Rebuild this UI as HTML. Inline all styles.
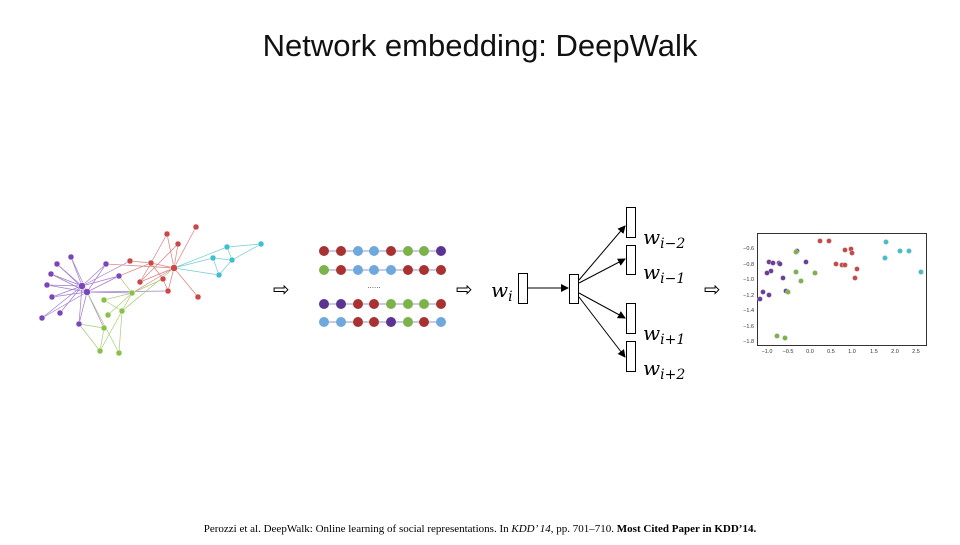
<!DOCTYPE html>
<html><head><meta charset="utf-8"><style>
body{margin:0;width:960px;height:540px;background:#fff;overflow:hidden;font-family:"Liberation Sans",sans-serif}
</style></head><body>
<svg width="960" height="540" xmlns="http://www.w3.org/2000/svg">
<text x="480" y="56" text-anchor="middle" font-family="Liberation Sans" font-size="31" fill="#111">Network embedding: DeepWalk</text>
<g stroke-width="0.7" opacity="0.8">
<g stroke="#8a5cc0">
<line x1="82" y1="286" x2="71" y2="257"/><line x1="82" y1="286" x2="57" y2="264"/><line x1="82" y1="286" x2="51" y2="274"/><line x1="82" y1="286" x2="47" y2="285"/><line x1="82" y1="286" x2="52" y2="297"/><line x1="82" y1="286" x2="42" y2="318"/><line x1="82" y1="286" x2="60" y2="313"/><line x1="82" y1="286" x2="106" y2="264"/><line x1="82" y1="286" x2="119" y2="276"/><line x1="82" y1="286" x2="130" y2="261"/><line x1="82" y1="286" x2="79" y2="324"/>
<line x1="87" y1="292" x2="71" y2="257"/><line x1="87" y1="292" x2="57" y2="264"/><line x1="87" y1="292" x2="51" y2="274"/><line x1="87" y1="292" x2="47" y2="285"/><line x1="87" y1="292" x2="52" y2="297"/><line x1="87" y1="292" x2="42" y2="318"/><line x1="87" y1="292" x2="106" y2="264"/><line x1="87" y1="292" x2="119" y2="276"/><line x1="87" y1="292" x2="79" y2="324"/><line x1="87" y1="292" x2="104" y2="328"/><line x1="87" y1="292" x2="168" y2="291"/><line x1="87" y1="292" x2="132" y2="293"/>
</g>
<g stroke="#d06060">
<line x1="130" y1="261" x2="151" y2="263"/><line x1="151" y1="263" x2="174" y2="268"/><line x1="174" y1="268" x2="167" y2="234"/><line x1="174" y1="268" x2="196" y2="227"/><line x1="174" y1="268" x2="178" y2="244"/><line x1="174" y1="268" x2="198" y2="297"/><line x1="174" y1="268" x2="168" y2="291"/><line x1="174" y1="268" x2="140" y2="282"/><line x1="151" y1="263" x2="167" y2="234"/><line x1="151" y1="263" x2="163" y2="279"/><line x1="151" y1="263" x2="140" y2="282"/><line x1="163" y1="279" x2="168" y2="291"/><line x1="140" y1="282" x2="178" y2="244"/><line x1="106" y1="264" x2="174" y2="268"/><line x1="119" y1="276" x2="151" y2="263"/><line x1="174" y1="268" x2="132" y2="293"/>
</g>
<g stroke="#50c0c8">
<line x1="227" y1="247" x2="261" y2="244"/><line x1="227" y1="247" x2="232" y2="260"/><line x1="213" y1="258" x2="232" y2="260"/><line x1="232" y1="260" x2="219" y2="275"/><line x1="213" y1="258" x2="219" y2="275"/><line x1="232" y1="260" x2="261" y2="244"/><line x1="174" y1="268" x2="227" y2="247"/><line x1="174" y1="268" x2="213" y2="258"/><line x1="174" y1="268" x2="219" y2="275"/>
</g>
<g stroke="#90c050">
<line x1="132" y1="293" x2="104" y2="300"/><line x1="132" y1="293" x2="122" y2="311"/><line x1="132" y1="293" x2="108" y2="315"/><line x1="122" y1="311" x2="104" y2="300"/><line x1="122" y1="311" x2="100" y2="351"/><line x1="122" y1="311" x2="119" y2="353"/><line x1="104" y1="328" x2="100" y2="351"/><line x1="79" y1="324" x2="100" y2="351"/><line x1="79" y1="324" x2="104" y2="328"/><line x1="122" y1="311" x2="174" y2="268"/><line x1="132" y1="293" x2="163" y2="279"/><line x1="87" y1="292" x2="119" y2="353"/><line x1="132" y1="293" x2="119" y2="276"/>
</g>
</g>
<g stroke="#fff" stroke-width="0.5">
<g fill="#7a45b8"><circle cx="82" cy="286" r="3.5"/><circle cx="87" cy="292" r="3.5"/><circle cx="71" cy="257" r="3"/><circle cx="57" cy="264" r="3"/><circle cx="51" cy="274" r="3"/><circle cx="47" cy="285" r="3"/><circle cx="52" cy="297" r="3"/><circle cx="42" cy="318" r="3"/><circle cx="60" cy="313" r="3"/><circle cx="79" cy="324" r="3"/><circle cx="106" cy="264" r="3"/><circle cx="119" cy="276" r="3"/></g>
<g fill="#c84848"><circle cx="130" cy="261" r="3"/><circle cx="151" cy="263" r="3"/><circle cx="174" cy="268" r="3.5"/><circle cx="167" cy="234" r="3"/><circle cx="196" cy="227" r="3"/><circle cx="178" cy="244" r="3"/><circle cx="140" cy="282" r="3"/><circle cx="163" cy="279" r="3"/><circle cx="168" cy="291" r="3"/><circle cx="198" cy="297" r="3"/></g>
<g fill="#40c0cc"><circle cx="227" cy="247" r="3"/><circle cx="261" cy="244" r="3"/><circle cx="213" cy="258" r="3"/><circle cx="232" cy="260" r="3"/><circle cx="219" cy="275" r="3"/></g>
<g fill="#88c048"><circle cx="132" cy="293" r="3"/><circle cx="104" cy="300" r="3"/><circle cx="108" cy="315" r="3"/><circle cx="122" cy="311" r="3"/><circle cx="104" cy="328" r="3"/><circle cx="100" cy="351" r="3"/><circle cx="119" cy="353" r="3"/></g>
</g>
<g font-family="DejaVu Sans" font-size="20" fill="#000">
<text x="273" y="296">⇨</text><text x="456" y="296">⇨</text><text x="704" y="296">⇨</text>
</g>
<g stroke="#b8b8d8" stroke-width="1.5"><line x1="324" y1="251" x2="441" y2="251"/><line x1="324" y1="270" x2="441" y2="270"/><line x1="324" y1="304" x2="441" y2="304"/><line x1="324" y1="322" x2="441" y2="322"/></g>
<g>
<circle cx="324" cy="251" r="5" fill="#a83232"/><circle cx="341" cy="251" r="5" fill="#a83232"/><circle cx="358" cy="251" r="5" fill="#6fa8dc"/><circle cx="374" cy="251" r="5" fill="#6fa8dc"/><circle cx="391" cy="251" r="5" fill="#a83232"/><circle cx="408" cy="251" r="5" fill="#7cb24a"/><circle cx="424" cy="251" r="5" fill="#7cb24a"/><circle cx="441" cy="251" r="5" fill="#5b3492"/>
<circle cx="324" cy="270" r="5" fill="#7cb24a"/><circle cx="341" cy="270" r="5" fill="#a83232"/><circle cx="358" cy="270" r="5" fill="#6fa8dc"/><circle cx="374" cy="270" r="5" fill="#6fa8dc"/><circle cx="391" cy="270" r="5" fill="#6fa8dc"/><circle cx="408" cy="270" r="5" fill="#a83232"/><circle cx="424" cy="270" r="5" fill="#a83232"/><circle cx="441" cy="270" r="5" fill="#a83232"/>
<circle cx="324" cy="304" r="5" fill="#5b3492"/><circle cx="341" cy="304" r="5" fill="#5b3492"/><circle cx="358" cy="304" r="5" fill="#a83232"/><circle cx="374" cy="304" r="5" fill="#a83232"/><circle cx="391" cy="304" r="5" fill="#7cb24a"/><circle cx="408" cy="304" r="5" fill="#7cb24a"/><circle cx="424" cy="304" r="5" fill="#7cb24a"/><circle cx="441" cy="304" r="5" fill="#a83232"/>
<circle cx="324" cy="322" r="5" fill="#6fa8dc"/><circle cx="341" cy="322" r="5" fill="#6fa8dc"/><circle cx="358" cy="322" r="5" fill="#a83232"/><circle cx="374" cy="322" r="5" fill="#a83232"/><circle cx="391" cy="322" r="5" fill="#5b3492"/><circle cx="408" cy="322" r="5" fill="#7cb24a"/><circle cx="424" cy="322" r="5" fill="#a83232"/><circle cx="441" cy="322" r="5" fill="#6fa8dc"/>
</g>
<text x="374" y="288" font-size="8" text-anchor="middle" fill="#444">......</text>
<defs><marker id="a" markerWidth="8" markerHeight="8" refX="7" refY="4" orient="auto" markerUnits="userSpaceOnUse"><path d="M0,0 L8,4 L0,8 z" fill="#000"/></marker></defs>
<g fill="#fff" stroke="#000" stroke-width="1">
<rect x="518.5" y="273.5" width="9" height="30"/><rect x="569.5" y="274.5" width="9" height="29"/>
<rect x="626.5" y="207.5" width="9" height="30"/><rect x="626.5" y="245.5" width="9" height="29"/><rect x="626.5" y="303.5" width="9" height="30"/><rect x="626.5" y="341.5" width="9" height="30"/>
</g>
<g stroke="#000" stroke-width="1" marker-end="url(#a)">
<line x1="528" y1="288" x2="568" y2="288"/><line x1="579" y1="280" x2="625" y2="226"/><line x1="579" y1="283" x2="625" y2="259"/><line x1="579" y1="293" x2="625" y2="318"/><line x1="579" y1="297" x2="625" y2="357"/>
</g>
<g font-family="DejaVu Serif" font-style="italic" fill="#000">
<text x="491" y="297" font-size="20">w<tspan font-size="14" dy="4">i</tspan></text>
<text x="643" y="244" font-size="20">w<tspan font-size="14" dy="4">i−2</tspan></text>
<text x="643" y="279" font-size="20">w<tspan font-size="14" dy="4">i−1</tspan></text>
<text x="643" y="340" font-size="20">w<tspan font-size="14" dy="4">i+1</tspan></text>
<text x="643" y="375" font-size="20">w<tspan font-size="14" dy="4">i+2</tspan></text>
</g>
<rect x="757.5" y="233.5" width="169" height="112" fill="none" stroke="#000" stroke-width="0.8"/>
<g font-size="5.5" fill="#333" text-anchor="end">
<text x="754" y="250">−0.6</text><text x="754" y="266">−0.8</text><text x="754" y="281">−1.0</text><text x="754" y="297">−1.2</text><text x="754" y="312">−1.4</text><text x="754" y="328">−1.6</text><text x="754" y="343">−1.8</text>
</g>
<g font-size="5.5" fill="#333" text-anchor="middle">
<text x="767" y="353">−1.0</text><text x="788" y="353">−0.5</text><text x="810" y="353">0.0</text><text x="831" y="353">0.5</text><text x="852" y="353">1.0</text><text x="874" y="353">1.5</text><text x="895" y="353">2.0</text><text x="916" y="353">2.5</text>
</g>
<g stroke="#ccc" stroke-width="0.5">
<g fill="#6a3d9a"><circle cx="769" cy="262" r="2.5"/><circle cx="773" cy="263" r="2.5"/><circle cx="779" cy="263" r="2.5"/><circle cx="771" cy="271" r="2.5"/><circle cx="767" cy="273" r="2.5"/><circle cx="760" cy="299" r="2.5"/><circle cx="763" cy="292" r="2.5"/><circle cx="769" cy="295" r="2.5"/><circle cx="783" cy="278" r="2.5"/><circle cx="780" cy="264" r="2.5"/><circle cx="797" cy="251" r="2.5"/><circle cx="806" cy="262" r="2.5"/><circle cx="786" cy="291" r="2.5"/></g>
<g fill="#7cb24a"><circle cx="796" cy="252" r="2.5"/><circle cx="796" cy="272" r="2.5"/><circle cx="801" cy="281" r="2.5"/><circle cx="815" cy="273" r="2.5"/><circle cx="788" cy="292" r="2.5"/><circle cx="777" cy="336" r="2.5"/><circle cx="785" cy="338" r="2.5"/></g>
<g fill="#c84848"><circle cx="820" cy="241" r="2.5"/><circle cx="829" cy="241" r="2.5"/><circle cx="836" cy="264" r="2.5"/><circle cx="842" cy="265" r="2.5"/><circle cx="845" cy="265" r="2.5"/><circle cx="845" cy="250" r="2.5"/><circle cx="851" cy="249" r="2.5"/><circle cx="852" cy="253" r="2.5"/><circle cx="857" cy="269" r="2.5"/><circle cx="855" cy="278" r="2.5"/></g>
<g fill="#40c0cc"><circle cx="886" cy="242" r="2.5"/><circle cx="885" cy="258" r="2.5"/><circle cx="900" cy="251" r="2.5"/><circle cx="909" cy="251" r="2.5"/><circle cx="921" cy="272" r="2.5"/></g>
</g>
<text x="480" y="532" text-anchor="middle" font-family="Liberation Serif" font-size="11" fill="#000">Perozzi et al. DeepWalk: Online learning of social representations. In <tspan font-style="italic">KDD’ 14</tspan>, pp. 701–710. <tspan font-weight="bold">Most Cited Paper in KDD’14.</tspan></text>
</svg>
</body></html>
